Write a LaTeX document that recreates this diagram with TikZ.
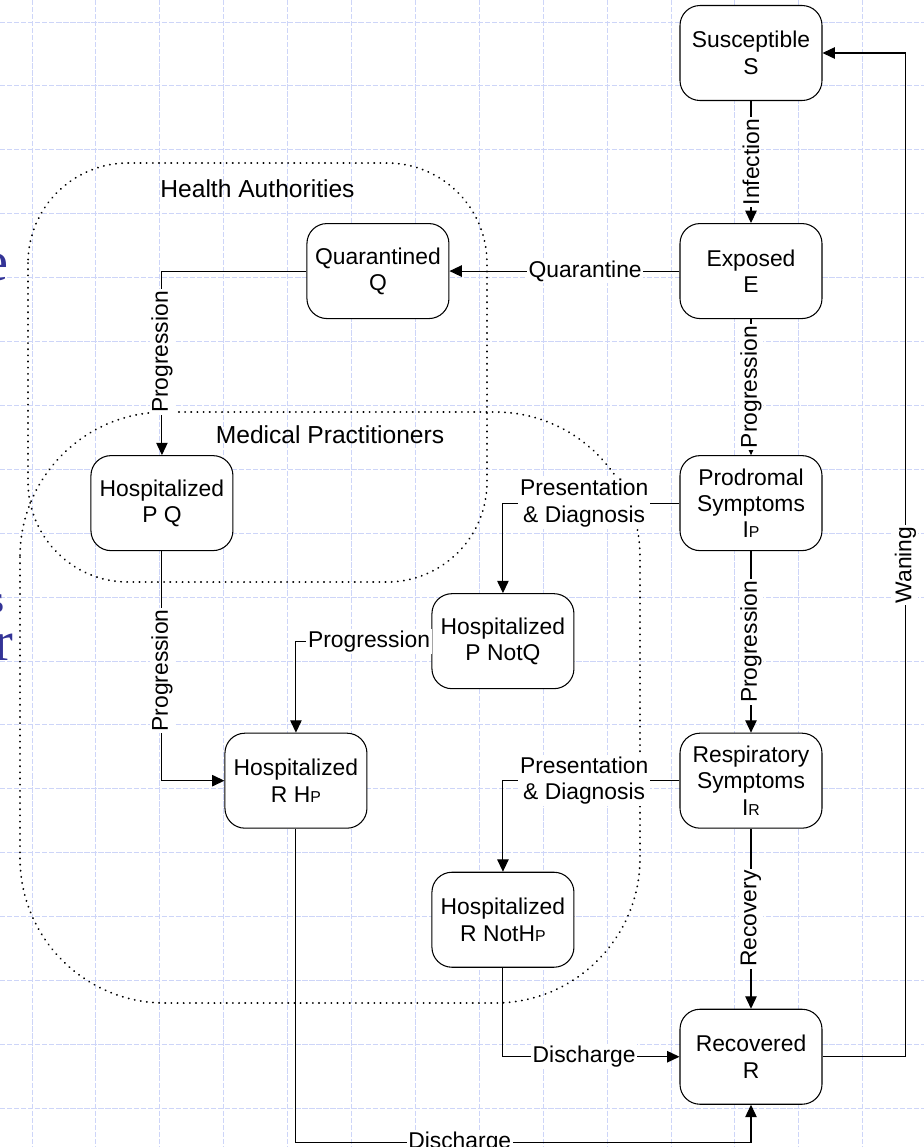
\documentclass[tikz,border=0pt]{standalone}
\usepackage{fontspec}
\setmainfont{Liberation Sans}
\newfontfamily\slidefont{Liberation Serif}
\usepackage{tikz}
\usetikzlibrary{positioning}
\usetikzlibrary{arrows.meta}

\definecolor{gridblue}{RGB}{205,213,248}
\definecolor{slideblue}{RGB}{51,51,150}
\newcommand{\smallsub}[1]{{\fontsize{9}{9}\selectfont #1}}

\begin{document}
\begin{tikzpicture}[x=0.2mm, y=-0.2mm, >={Triangle[length=7pt,width=6.5pt]},
    font=\fontsize{13}{15}\selectfont,
    state/.style={draw, rounded corners=0.4cm, fill=white, line width=0.6pt,
      minimum width=2.84cm, minimum height=1.9cm, align=center, inner sep=2pt},
    lbl/.style={fill=white, inner sep=1pt, align=center},
    flow/.style={->, line width=0.6pt},
    region/.style={draw, line width=1.1pt, dash pattern=on 0.1pt off 3.4pt,
      line cap=round, rounded corners=#1}]

        \useasboundingbox (0,0) rectangle (924,1147);
        \clip (0,0) rectangle (924,1147);

        % 背景网格
        \foreach \i in {0,...,13}
          \draw[gridblue, line width=0.5pt, dash pattern=on 3pt off 1pt]
            ({32+63.9*\i},0) -- ({32+63.9*\i},1147);
        \foreach \j in {0,...,17}
          \draw[gridblue, line width=0.5pt, dash pattern=on 3pt off 1pt]
            (0,{22+63.9*\j}) -- (924,{22+63.9*\j});

        % 左边被截去的文字
        \node[anchor=base east, inner sep=0, text=slideblue, font=\slidefont\fontsize{32}{32}\selectfont] (le) at (9,280) {e};
        \node[anchor=base east, inner sep=0, text=slideblue, font=\slidefont\fontsize{22}{22}\selectfont] (ls) at (5,612) {s};
        \node[anchor=base east, inner sep=0, text=slideblue, font=\slidefont\fontsize{32}{32}\selectfont] (lr) at (14,660) {r};

        % 区域
        \draw[region=2cm] (28,163) rectangle (487,582);
        \draw[region=2.9cm] (20,412) rectangle (640,1003);
        \node[font=\fontsize{14}{16}\selectfont] (ha) at (257.5,189) {Health Authorities};
        \node[font=\fontsize{14}{16}\selectfont] (mp) at (330,435) {Medical Practitioners};

        % 主链
        \node[state] (s) at (751,53) {Susceptible\\S};
        \node[state, below=2.44cm of s] (e) {Exposed\\E};
        \node[state, below=2.72cm of e] (ip) {Prodromal\\Symptoms\\I\smallsub{P}};
        \node[state, below=3.63cm of ip] (ir) {Respiratory\\Symptoms\\I\smallsub{R}};
        \node[state, below=3.6cm of ir] (r) {Recovered\\R};

        % 隔离与住院
        \node[state, left=4.6cm of e] (q) {Quarantined\\Q};
        \node[state, left=8.92cm of ip] (pq) {Hospitalized\\P Q};
        \node[state, below left=0.84cm and 2.1cm of ip] (pnq) {Hospitalized\\P NotQ};
        \node[state, left=6.24cm of ir] (rhp) {Hospitalized\\R H\smallsub{P}};
        \node[state, below left=0.86cm and 2.1cm of ir] (rnh) {Hospitalized\\R NotH\smallsub{P}};

        % 箭头
        \draw[flow] (s) -- node[lbl, rotate=90] {Infection} (e);
        \draw[flow] (e) -- node[lbl, pos=0.41] {Quarantine} (q);
        \draw[flow] (e) -- node[lbl, rotate=90] {Progression} (ip);
        \draw[flow] (q) -| node[lbl, rotate=90, pos=0.72] {Progression} (pq);
        \draw[flow] (ip) -| node[lbl, pos=0.27] {Presentation\\\& Diagnosis} (pnq);
        \draw[flow] (ip) -- node[lbl, rotate=90] {Progression} (ir);
        \draw[flow] (ir) -| node[lbl, pos=0.27] {Presentation\\\& Diagnosis} (rnh);
        \draw[flow] (ir) -- node[lbl, rotate=90] {Recovery} (r);
        \draw[flow] (pq) |- node[lbl, rotate=90, pos=0.26] {Progression} (rhp);
        \draw[flow] (pnq) -| node[lbl, pos=0.23] {Progression} (rhp);
        \draw[flow] (rnh) |- node[lbl, pos=0.73] {Discharge} (r);
        \draw[flow] (rhp.south) -- ++(0,314) -| node[lbl, pos=0.18] {Discharge} (r);

        % 回到易感
        \draw[flow] (r.east) -- ++(83,0) |- node[lbl, rotate=90, pos=0.245] {Waning} (s);

    \end{tikzpicture}
\end{document}
